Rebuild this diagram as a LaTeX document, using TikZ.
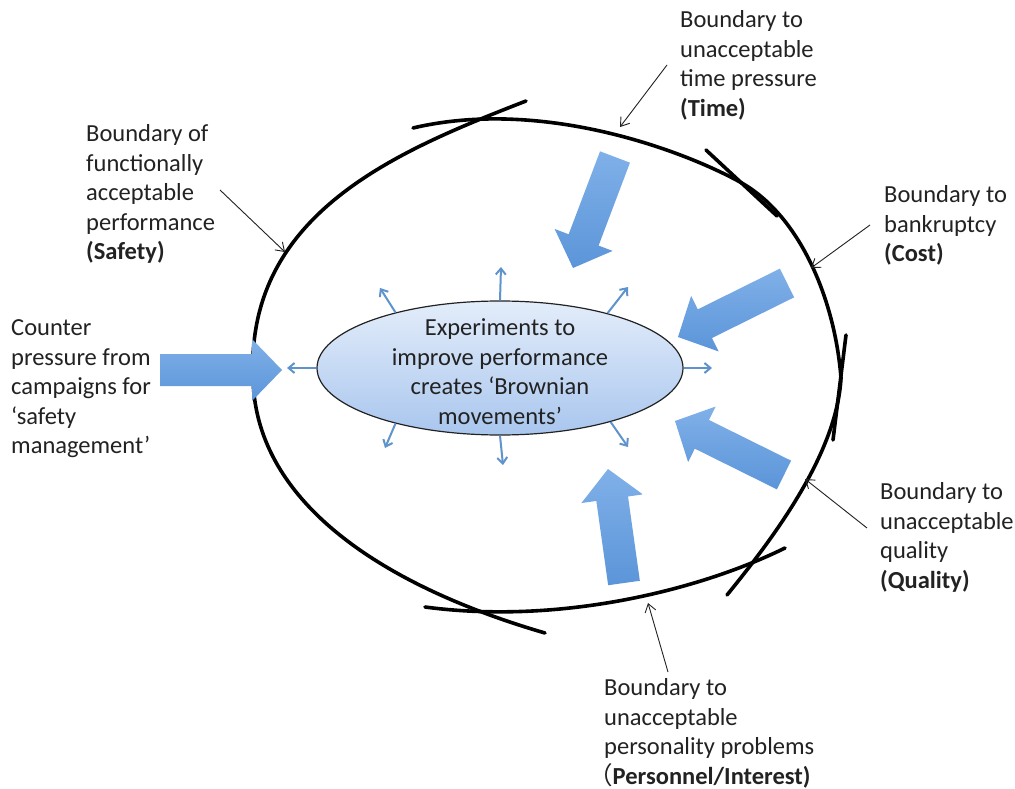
\documentclass[tikz,border=0pt]{standalone}
\usepackage{fontspec}
\setmainfont{Carlito}
\newfontfamily\cjkfont{Noto Sans CJK JP}
\usetikzlibrary{shapes.geometric,arrows.meta,calc}

\definecolor{ink}{HTML}{222222}
\definecolor{pushlight}{HTML}{80B0E8}
\definecolor{pushdark}{HTML}{5B95D9}
\definecolor{jitterblue}{HTML}{5F93CC}
\definecolor{ovaltop}{HTML}{E3EDFA}
\definecolor{ovalbottom}{HTML}{A9C6EE}

\tikzset{
  label text/.style={anchor=north west, align=left, inner sep=0pt, text=ink,
    font=\fontsize{24.5}{29.5}\selectfont},
  boundary/.style={draw=black, line width=3.6pt, line cap=round},
  pointer/.style={draw=ink, line width=0.9pt, -{Straight Barb[length=8pt,width=11pt]}},
  jitter/.style={draw=jitterblue, line width=2pt, -{Straight Barb[length=6pt,width=10pt]}},
  push/.style={top color=pushlight, bottom color=pushdark, draw=none},
}

% block arrow from tail coordinate #1 to tip coordinate #2
\newcommand\pusharrow[2]{%
  \coordinate (#1-b) at ($(#2)!30pt!(#1)$);
  \path[push] ($(#1)!16pt!90:(#2)$) -- ($(#1-b)!16pt!-90:(#1)$)
    -- ($(#1-b)!31pt!-90:(#1)$) -- (#2) -- ($(#1-b)!31pt!90:(#1)$)
    -- ($(#1-b)!16pt!90:(#1)$) -- ($(#1)!16pt!-90:(#2)$) -- cycle;
}

\begin{document}
\begin{tikzpicture}[x=1pt,y=-1pt]
\useasboundingbox (0,0) rectangle (1015,789);
\fill[white] (0,0) rectangle (1015,789);

% boundaries of the operating envelope
\draw[boundary] (526,101) .. controls (400,150) and (247,212) .. (253,375)
  .. controls (253,500) and (380,585) .. (545,633);
\draw[boundary] (413,128) .. controls (540,98) and (680,149) .. (740,182)
  .. controls (800,215) and (835,300) .. (841,378)
  .. controls (837,450) and (780,530) .. (727,595);
\draw[boundary] (425,607) .. controls (560,625) and (700,590) .. (785,548);
\draw[boundary] (706,150) -- (777,216);
\draw[boundary] (846,335) -- (833,440);

% pressures pushing on the envelope
\coordinate (safetyT) at (160,370);    \coordinate (safetyP) at (282,370);
\coordinate (timeT) at (615,157);      \coordinate (timeP) at (573,268);
\coordinate (costT) at (787,283);      \coordinate (costP) at (678,337);
\coordinate (qualityT) at (784,475);   \coordinate (qualityP) at (675,421);
\coordinate (personT) at (624,583);    \coordinate (personP) at (608,469);
\pusharrow{safetyT}{safetyP}
\pusharrow{timeT}{timeP}
\pusharrow{costT}{costP}
\pusharrow{qualityT}{qualityP}
\pusharrow{personT}{personP}

% central experiments
\node[ellipse, draw=ink, line width=1.2pt, top color=ovaltop, bottom color=ovalbottom,
  minimum width=366pt, minimum height=134pt, inner sep=0pt] (exp) at (500,368) {};
\node[label text, anchor=north, align=center] (exptext) at (500,315)
  {\strut Experiments to\\improve performance\\creates ‘Brownian\\movements’};

\coordinate (jN) at (501,267);   \coordinate (jS) at (503,465);
\coordinate (jW) at (287,368);   \coordinate (jE) at (712,368);
\coordinate (jNW) at (380,288);  \coordinate (jNE) at (628,287);
\coordinate (jSW) at (385,448);  \coordinate (jSE) at (628,447);
\draw[jitter] (exp.north) -- (jN);
\draw[jitter] (exp.south) -- (jS);
\draw[jitter] (exp.west) -- (jW);
\draw[jitter] (exp.east) -- (jE);
\draw[jitter] (exp.152) -- (jNW);
\draw[jitter] (exp.27) -- (jNE);
\draw[jitter] (exp.208) -- (jSW);
\draw[jitter] (exp.334) -- (jSE);

% labels
\node[label text] (safety) at (86,121)
  {\strut Boundary of\\functionally\\acceptable\\performance\\\textbf{(Safety)}};
\node[label text] (counter) at (11,315)
  {\strut Counter\\pressure from\\campaigns for\\‘safety\\management’};
\node[label text] (time) at (680,7)
  {\strut Boundary to\\unacceptable\\time pressure\\\textbf{(Time)}};
\node[label text] (cost) at (884,182)
  {\strut Boundary to\\bankruptcy\\\textbf{(Cost)}};
\node[label text] (quality) at (880,479)
  {\strut Boundary to\\unacceptable\\quality\\\textbf{(Quality)}};
\node[label text] (person) at (604,675)
  {\strut Boundary to\\unacceptable\\personality problems\\\hspace*{-16pt}{\cjkfont （}\textbf{Personnel/Interest)}};

% pointers from labels to their boundaries
\coordinate (safetyFrom) at (220,190);   \coordinate (safetyTo) at (285,252);
\coordinate (timeFrom) at (667,65);      \coordinate (timeTo) at (620,127);
\coordinate (costFrom) at (870,225);     \coordinate (costTo) at (811,268);
\coordinate (qualityFrom) at (867,528);  \coordinate (qualityTo) at (805,479);
\coordinate (personFrom) at (668,672);   \coordinate (personTo) at (648,603);
\draw[pointer] (safetyFrom) -- (safetyTo);
\draw[pointer] (timeFrom) -- (timeTo);
\draw[pointer] (costFrom) -- (costTo);
\draw[pointer] (qualityFrom) -- (qualityTo);
\draw[pointer] (personFrom) -- (personTo);
\end{tikzpicture}
\end{document}
